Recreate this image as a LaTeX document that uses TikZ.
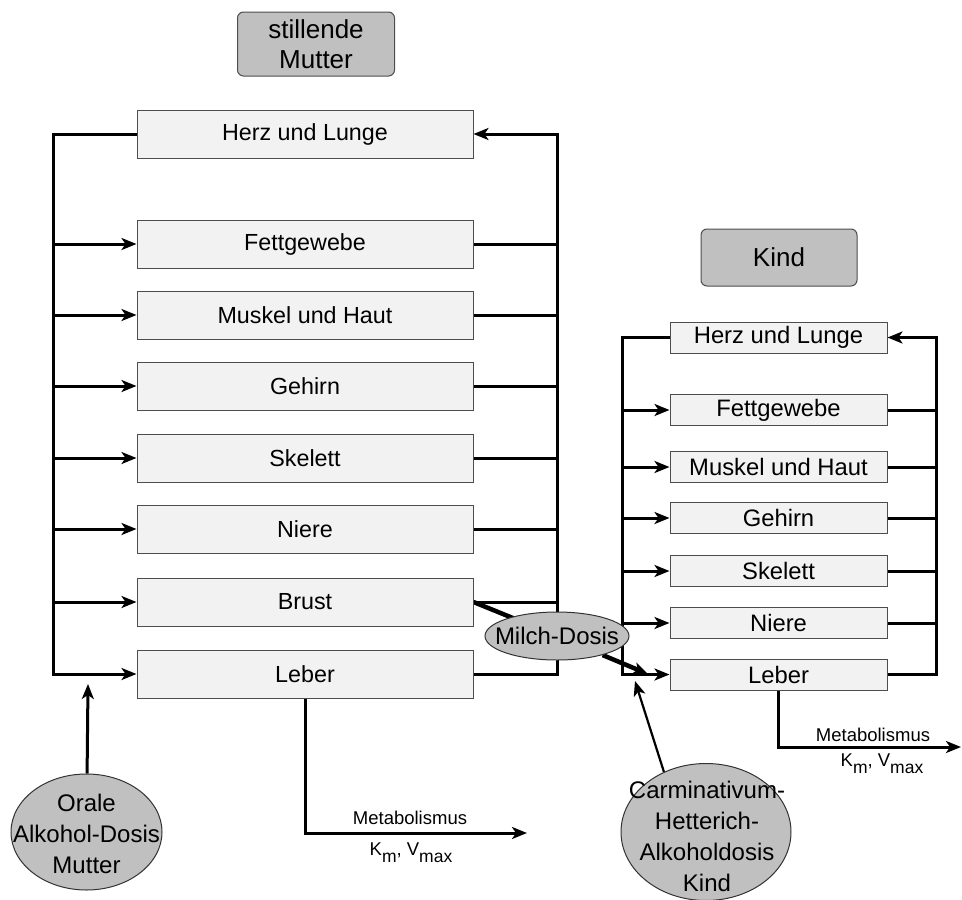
\documentclass[tikz,border=0pt]{standalone}
\usepackage{fontspec}
\setmainfont{Liberation Sans}
\usetikzlibrary{shapes.geometric,arrows.meta,backgrounds}
\definecolor{boxfill}{HTML}{F2F2F2}
\definecolor{boxline}{HTML}{4D4D4D}
\definecolor{darkfill}{HTML}{C0C0C0}
\newcommand{\lowsub}[1]{\raisebox{-0.42em}{\fontsize{17.5}{18}\selectfont #1}}
\begin{document}
\begin{tikzpicture}[x=1pt,y=-1pt,
 organ/.style={draw=boxline, line width=1pt, fill=boxfill, inner sep=0pt, minimum width=336pt, minimum height=48pt, font=\fontsize{23.3}{27}\selectfont},
 korgan/.style={organ, minimum width=217pt, minimum height=31pt, font=\fontsize{23.8}{27}\selectfont},
 titlebox/.style={draw=boxline, line width=1pt, fill=darkfill, rounded corners=6pt, inner sep=0pt, align=center, font=\fontsize{26}{30}\selectfont},
 dose/.style={ellipse, draw=black!80, line width=1pt, fill=darkfill, inner sep=0pt},
 dosetext/.style={align=center, inner sep=0pt, font=\fontsize{24}{31}\selectfont},
 conn/.style={line width=3pt, line join=miter},
 arr/.style={conn, -{Stealth[length=15pt,width=12pt,inset=4pt]}},
 small/.style={font=\fontsize{18.5}{22}\selectfont, inner sep=0pt}
]
\useasboundingbox (0,0) rectangle (962,900);

% Mother
\node[titlebox, minimum width=157pt, minimum height=64pt] (tM) at (316,44) {stillende\\Mutter};
\node[organ] (mHerz)  at (305,134) {Herz und Lunge};
\node[organ] (mFett)  at (305,244) {Fettgewebe};
\node[organ] (mMusk)  at (305,315) {Muskel und Haut};
\node[organ] (mGeh)   at (305,386) {Gehirn};
\node[organ] (mSkel)  at (305,458) {Skelett};
\node[organ] (mNier)  at (305,529) {Niere};
\node[organ] (mBrust) at (305,602) {Brust};
\node[organ] (mLeb)   at (305,674) {Leber};

% Child
\node[titlebox, minimum width=156pt, minimum height=57pt] (tK) at (779,257.5) {Kind};
\node[korgan] (kHerz) at (778.5,337.5) {Herz und Lunge};
\node[korgan] (kFett) at (778.5,410) {Fettgewebe};
\node[korgan] (kMusk) at (778.5,467) {Muskel und Haut};
\node[korgan] (kGeh)  at (778.5,518) {Gehirn};
\node[korgan] (kSkel) at (778.5,571) {Skelett};
\node[korgan] (kNier) at (778.5,623) {Niere};
\node[korgan] (kLeb)  at (778.5,674.5) {Leber};

% Doses
\node[dose, minimum width=151pt, minimum height=116pt] (oral) at (86.5,832) {};
\node[dosetext] (oralT) at (86.5,834) {Orale\\Alkohol-Dosis\\Mutter};
\node[dose, minimum width=170pt, minimum height=137pt] (carm) at (706,832) {};
\node[dosetext] (carmT) at (707,836) {Carminativum-\\Hetterich-\\Alkoholdosis\\Kind};
\node[dose, minimum width=144pt, minimum height=48pt] (milch) at (557,636) {};
\node[dosetext] (milchT) at (557,636) {Milch-Dosis};

% Metabolism labels
\node[small] (mMet) at (410,818) {Metabolismus};
\node[small, anchor=base] (mKV)  at (411,855) {K\lowsub{m}, V\lowsub{max}};
\node[small] (kMet) at (873,735) {Metabolismus};
\node[small, anchor=base] (kKV)  at (882,766) {K\lowsub{m}, V\lowsub{max}};

\coordinate (mL) at (53,674);
\coordinate (mR) at (557,134);
\coordinate (kL) at (622,674.5);
\coordinate (kR) at (936,337.5);
\coordinate (mEnd) at (527,833);
\coordinate (kEnd) at (961,747);
\coordinate (mkTip) at (648,674);
\coordinate (cTip) at (635,681);
\coordinate (oTip) at (88,684);

\begin{scope}[on background layer]
 % mother loop
 \draw[arr] (mHerz.west) -| (mL) -- (mLeb.west);
 \foreach \n in {mFett,mMusk,mGeh,mSkel,mNier,mBrust}
   \draw[arr] (\n.west -| mL) -- (\n.west);
 \draw[arr] (mLeb.east) -| (mR) -- (mHerz.east);
 \foreach \n in {mFett,mMusk,mGeh,mSkel,mNier,mBrust}
   \draw[conn] (\n.east) -- (\n.east -| mR);
 % child loop
 \draw[arr] (kHerz.west) -| (kL) -- (kLeb.west);
 \foreach \n in {kFett,kMusk,kGeh,kSkel,kNier}
   \draw[arr] (\n.west -| kL) -- (\n.west);
 \draw[arr] (kLeb.east) -| (kR) -- (kHerz.east);
 \foreach \n in {kFett,kMusk,kGeh,kSkel,kNier}
   \draw[conn] (\n.east) -- (\n.east -| kR);
 % milk
 \draw[conn, line width=4.5pt] (mBrust.east) -- (milch.center);
 \draw[arr, line width=4.5pt] (milch) -- (mkTip);
 % doses
 \draw[arr] (oral) -- (oTip);
 \draw[arr, line width=2.2pt] (carm.125) -- (cTip);
 % metabolism
 \draw[arr] (mLeb.south) |- (mEnd);
 \draw[arr] (kLeb.south) |- (kEnd);
\end{scope}
\end{tikzpicture}
\end{document}
